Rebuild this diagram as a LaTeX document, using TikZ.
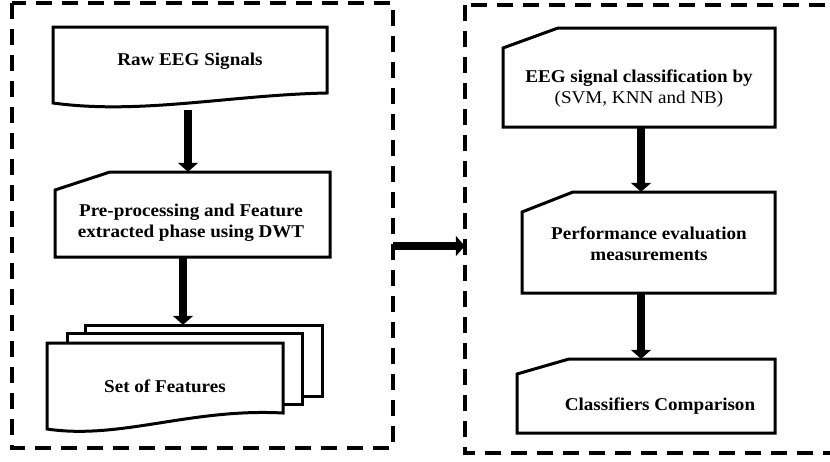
\documentclass[tikz,border=0pt]{standalone}
\usepackage{fontspec}
\setmainfont{Liberation Serif}[FakeStretch=1.06]
\usetikzlibrary{arrows.meta}
\tikzset{
  boxline/.style={line width=3pt, line join=miter, fill=white},
  dashframe/.style={line width=4pt, dash pattern=on 16pt off 10pt},
  area/.style={draw=none, inner sep=0pt, minimum width=#1},
  lbl/.style={font=\fontsize{18}{21}\selectfont\bfseries, align=center, inner sep=0pt},
  arr/.style={line width=8pt, -{Triangle[width=20pt,length=9pt]}}
}
\begin{document}
\begin{tikzpicture}[x=1pt,y=-1pt]
\useasboundingbox (0,0) rectangle (830,461);
\clip (0,0) rectangle (830,461);
% dashed frames
\draw[dashframe] (12,3) rectangle (393,448);
\draw[dashframe] (465,5) rectangle (860,453);
\node[area=381pt, minimum height=445pt] (leftframe) at (202.5,225.5) {};
\node[area=395pt, minimum height=448pt] (rightframe) at (662.5,229) {};
% Raw EEG Signals (document shape)
\node[area=274pt, minimum height=80pt] (raw) at (190,66) {};
\draw[boxline] (53,27) -- (327,27) -- (327,93)
  .. controls (230,95) and (140,115) .. (53,103) -- cycle;
\node[lbl] (rawtxt) at (190,61) {Raw EEG Signals};
% Pre-processing (card shape)
\node[area=275pt, minimum height=85pt] (pre) at (192.5,214.5) {};
\draw[boxline] (110,172) -- (330,172) -- (330,257) -- (55,257) -- (55,190) -- cycle;
\node[lbl] (pretxt) at (191,223) {Pre-processing and Feature\\extracted phase using DWT};
% Set of Features (stacked documents)
\node[area=237pt, minimum height=71pt] (featback) at (203.5,360.5) {};
\draw[boxline] (85,325) rectangle (322,396);
\draw[boxline] (67,333) rectangle (302,404);
\node[area=236pt, minimum height=86pt] (feat) at (165,386) {};
\draw[boxline] (47,343) -- (283,343) -- (283,413)
  .. controls (190,408) and (120,440) .. (47,429) -- cycle;
\node[lbl] (feattxt) at (165,386) {Set of Features};
% right column
\node[area=272pt, minimum height=99pt] (cls) at (639,77.5) {};
\draw[boxline] (558,28) -- (775,28) -- (775,127) -- (503,127) -- (503,48) -- cycle;
\node[lbl] (clstxt) at (639,89) {EEG signal classification by\\\mdseries(SVM, KNN and NB)};
\node[area=253pt, minimum height=101pt] (perf) at (648.5,242.5) {};
\draw[boxline] (573,192) -- (775,192) -- (775,293) -- (522,293) -- (522,212) -- cycle;
\node[lbl] (perftxt) at (649,244) {Performance evaluation\\measurements};
\node[area=258pt, minimum height=74pt] (cmp) at (646,396) {};
\draw[boxline] (569,359) -- (775,359) -- (775,433) -- (517,433) -- (517,374) -- cycle;
\node[lbl] (cmptxt) at (660,406) {Classifiers Comparison};
% connectors
\draw[arr] ([xshift=-2pt,yshift=-4pt]raw.south) -- ([xshift=-2pt]raw.south |- pre.north);
\draw[arr] (pre.south -| featback.north) ++(-20.5pt,0) coordinate (a2s) -- (a2s |- featback.north);
\draw[arr] (cls.south) ++(2pt,0) coordinate (a3s) -- (a3s |- perf.north);
\draw[arr] (perf.south) ++(-7.5pt,0) coordinate (a4s) -- (a4s |- cmp.north);
\coordinate (mid) at (0,246);
\draw[arr] (leftframe.east |- mid) -- (rightframe.west |- mid);
\end{tikzpicture}
\end{document}
